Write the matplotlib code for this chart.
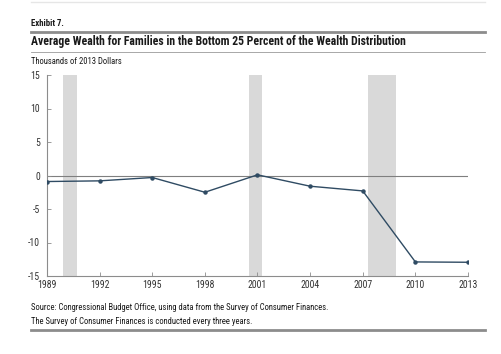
import matplotlib
matplotlib.use("Agg")
import matplotlib.pyplot as plt
from matplotlib.lines import Line2D
from matplotlib import font_manager as fm

years = [1989, 1992, 1995, 1998, 2001, 2004, 2007, 2010, 2013]
wealth = [-0.9, -0.8, -0.3, -2.5, 0.1, -1.6, -2.3, -12.9, -12.95]
rec_start = [1989.92, 2000.49, 2007.32]
rec_end = [1990.7, 2001.27, 2008.88]
yticks = [-15, -10, -5, 0, 5, 10, 15]

available = {f.name for f in fm.fontManager.ttflist}
candidates = ["Roboto Condensed", "Fira Sans Condensed", "Archivo Narrow", "PT Sans Narrow",
              "Asap Condensed", "Liberation Sans"]
family = next((c for c in candidates if c in available), "DejaVu Sans")
plt.rcParams["font.family"] = [family, "DejaVu Sans"]

fig = plt.figure(figsize=(5.01, 3.54), dpi=100)
ax = fig.add_axes([47/501, 1-276/354, (468-47)/501, (276-75)/354])

for s, e in zip(rec_start, rec_end):
    ax.axvspan(s, e, color="#d9d9d9", lw=0, zorder=0)
ax.axhline(0, color="#7f7f7f", lw=0.8, zorder=1)
ax.plot(years, wealth, color="#2f4b63", lw=1.0, marker="o", ms=2.2, zorder=3)

ax.set_xlim(1989, 2013)
ax.set_ylim(-15, 15)
ax.set_xticks(years)
ax.set_yticks(yticks)
ax.set_xticklabels([str(y) for y in years])
ax.set_yticklabels([str(v) for v in yticks])
for sp in ["top", "right"]:
    ax.spines[sp].set_visible(False)
for sp in ["left", "bottom"]:
    ax.spines[sp].set_color("#8c8c8c")
    ax.spines[sp].set_linewidth(0.8)
ax.tick_params(direction="in", length=3, width=0.6, color="#8c8c8c",
               labelsize=7, labelcolor="#333333")
ax.tick_params(axis="x", pad=3)
ax.tick_params(axis="y", pad=5)

texts = []
def add(y, s, size, width_px, bold=False):
    t = fig.text(31/501, 1-y/354, s, fontsize=size, fontweight="bold" if bold else "normal",
                 va="center", ha="left", color="#1a1a1a")
    texts.append((t, width_px))
    return t

add(23, "Exhibit 7.", 6.5, 33, bold=True)
add(42, "Average Wealth for Families in the Bottom 25 Percent of the Wealth Distribution", 9, 378, bold=True)
add(61, "Thousands of 2013 Dollars", 6.5, 91)
add(307, "Source: Congressional Budget Office, using data from the Survey of Consumer Finances.", 6.5, 295)
add(322, "The Survey of Consumer Finances is conducted every three years.", 6.5, 224)

fig.canvas.draw()
r = fig.canvas.get_renderer()
sizes = []
for t, w in texts:
    cur = t.get_window_extent(r).width
    sizes.append(t.get_fontsize() * w / cur)
# plain-text lines share one size, like the reference
plain = [2, 3, 4]
common = sum(sizes[i] for i in plain) / len(plain)
for i, (t, w) in enumerate(texts):
    t.set_fontsize(common if i in plain else sizes[i])

fig.add_artist(Line2D([31/501, 485/501], [1-32/354]*2, color="#8c8c8c", lw=2))
fig.add_artist(Line2D([31/501, 485/501], [1-52/354]*2, color="#9a9a9a", lw=0.6))
fig.add_artist(Line2D([31/501, 485/501], [1-1.5/354]*2, color="#e6e6e6", lw=1))
fig.add_artist(Line2D([31/501, 485/501], [1-330/354]*2, color="#8c8c8c", lw=2))

fig.savefig("out.png", dpi=100)
